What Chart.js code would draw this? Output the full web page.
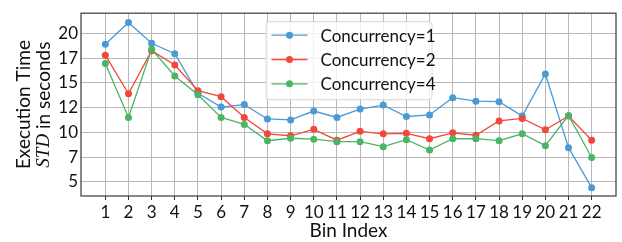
<!DOCTYPE html>
<html>
<head>
<meta charset="utf-8">
<script src="https://cdn.jsdelivr.net/npm/chart.js@4.4.1/dist/chart.umd.min.js"></script>
<style>
    html, body { margin: 0; padding: 0; background: #fff; }
    canvas { display: block; }
</style>
</head>
<body>
<canvas id="stdChart" width="622" height="242"></canvas>
<script>
// Data
const bins = [1, 2, 3, 4, 5, 6, 7, 8, 9, 10, 11, 12, 13, 14, 15, 16, 17, 18, 19, 20, 21, 22];
const conc1 = [18.9, 21.1, 19.0, 17.95, 13.95, 12.55, 12.8, 11.35, 11.25, 12.15, 11.5, 12.35, 12.75, 11.6, 11.75, 13.5, 13.15, 13.1, 11.65, 15.9, 8.45, 4.4];
const conc2 = [17.8, 13.9, 18.25, 16.8, 14.2, 13.6, 11.5, 9.85, 9.65, 10.3, 9.2, 10.1, 9.85, 9.9, 9.35, 9.95, 9.7, 11.15, 11.4, 10.25, 11.65, 9.2];
const conc4 = [16.95, 11.5, 18.4, 15.7, 13.8, 11.5, 10.8, 9.15, 9.4, 9.3, 9.05, 9.05, 8.55, 9.25, 8.2, 9.35, 9.35, 9.15, 9.85, 8.65, 11.7, 7.45];
const seriesLabels = ['Concurrency=1', 'Concurrency=2', 'Concurrency=4'];
const yTicks = [5, 7.5, 10, 12.5, 15, 17.5, 20];

const FONT = 'Lato';
const colors = ['#4a9bd5', '#f4473b', '#4bb565'];

const toPoints = arr => arr.map((v, i) => ({ x: bins[i], y: v }));

// frame around the plot area (all four sides)
const framePlugin = {
    id: 'frame',
    afterDatasetsDraw(chart) {
        const { ctx, chartArea: a } = chart;
        ctx.save();
        ctx.strokeStyle = '#3a3a3a';
        ctx.lineWidth = 1.2;
        ctx.strokeRect(a.left, a.top, a.right - a.left, a.bottom - a.top);
        ctx.restore();
    }
};

// legend box, upper center inside the plot
const legendPlugin = {
    id: 'innerLegend',
    afterDraw(chart) {
        const { ctx, chartArea: a } = chart;
        const w = 166, h = 78;
        const x0 = (a.left + a.right) / 2 - w / 2;
        const y0 = a.top + 8;
        ctx.save();
        ctx.fillStyle = 'rgba(255,255,255,0.8)';
        ctx.strokeStyle = '#d6d6d6';
        ctx.lineWidth = 1;
        ctx.beginPath();
        ctx.roundRect(x0 + 0.5, y0 + 0.5, w, h, 3);
        ctx.fill();
        ctx.stroke();
        ctx.font = '17px ' + FONT;
        ctx.textBaseline = 'middle';
        chart.data.datasets.forEach((ds, i) => {
            const y = y0 + 14 + i * 24.3;
            ctx.strokeStyle = ds.borderColor;
            ctx.lineWidth = 1.3;
            ctx.beginPath();
            ctx.moveTo(x0 + 6, y);
            ctx.lineTo(x0 + 42, y);
            ctx.stroke();
            ctx.fillStyle = ds.borderColor;
            ctx.beginPath();
            ctx.arc(x0 + 24, y, 3.5, 0, Math.PI * 2);
            ctx.fill();
            ctx.fillStyle = '#111';
            ctx.fillText(ds.label, x0 + 55, y + 1);
        });
        ctx.restore();
    }
};

// two-line y title with italic STD
const yTitlePlugin = {
    id: 'yTitle',
    afterDraw(chart) {
        const { ctx, chartArea: a } = chart;
        const cy = (a.top + a.bottom) / 2;
        ctx.save();
        ctx.fillStyle = '#111';
        ctx.textBaseline = 'middle';
        ctx.translate(0, cy);
        ctx.rotate(-Math.PI / 2);
        ctx.font = '19px ' + FONT;
        ctx.textAlign = 'center';
        ctx.fillText('Execution Time', 0, 24);
        const italic = 'italic 19px "Liberation Serif"';
        const normal = '19px ' + FONT;
        ctx.font = italic;
        const w1 = ctx.measureText('STD').width;
        ctx.font = normal;
        const w2 = ctx.measureText(' in seconds').width;
        let x = -(w1 + w2) / 2;
        ctx.textAlign = 'left';
        ctx.font = italic;
        ctx.fillText('STD', x, 44);
        ctx.font = normal;
        ctx.fillText(' in seconds', x + w1, 44);
        ctx.restore();
    }
};

new Chart(document.getElementById('stdChart').getContext('2d'), {
    type: 'line',
    data: {
        datasets: [conc1, conc2, conc4].map((arr, i) => ({
            label: seriesLabels[i],
            data: toPoints(arr),
            borderColor: colors[i],
            backgroundColor: colors[i],
            borderWidth: 1.3,
            pointRadius: 3.5,
            pointBorderWidth: 0,
            pointHoverRadius: 3.5,
            tension: 0,
            order: 3 - i
        }))
    },
    options: {
        responsive: false,
        animation: false,
        devicePixelRatio: 1,
        layout: { padding: { top: 8, right: 6, left: 0, bottom: 0 } },
        plugins: {
            legend: { display: false },
            tooltip: { enabled: false }
        },
        scales: {
            x: {
                type: 'linear',
                min: -0.05,
                max: 23.05,
                afterBuildTicks: s => { s.ticks = bins.map(v => ({ value: v })); },
                afterFit: s => { s.height = 46; },
                grid: { color: '#b8b8b8', lineWidth: 1, tickColor: '#333', tickLength: 4 },
                border: { display: false },
                ticks: {
                    color: '#111',
                    font: { family: FONT, size: 17 },
                    padding: 2,
                    maxRotation: 0,
                    autoSkip: false
                },
                title: {
                    display: true,
                    text: 'Bin Index',
                    color: '#111',
                    font: { family: FONT, size: 19 },
                    padding: { top: 0, bottom: 0 }
                }
            },
            y: {
                min: 3.56,
                max: 22.04,
                afterBuildTicks: s => { s.ticks = yTicks.map(v => ({ value: v })); },
                afterFit: s => { s.width = 81; },
                grid: { color: '#b8b8b8', lineWidth: 1, drawTicks: false },
                border: { display: false },
                ticks: {
                    color: '#111',
                    font: { family: FONT, size: 17 },
                    padding: 3,
                    callback: v => Math.floor(v)
                }
            }
        }
    },
    plugins: [framePlugin, legendPlugin, yTitlePlugin]
});
</script>
</body>
</html>
